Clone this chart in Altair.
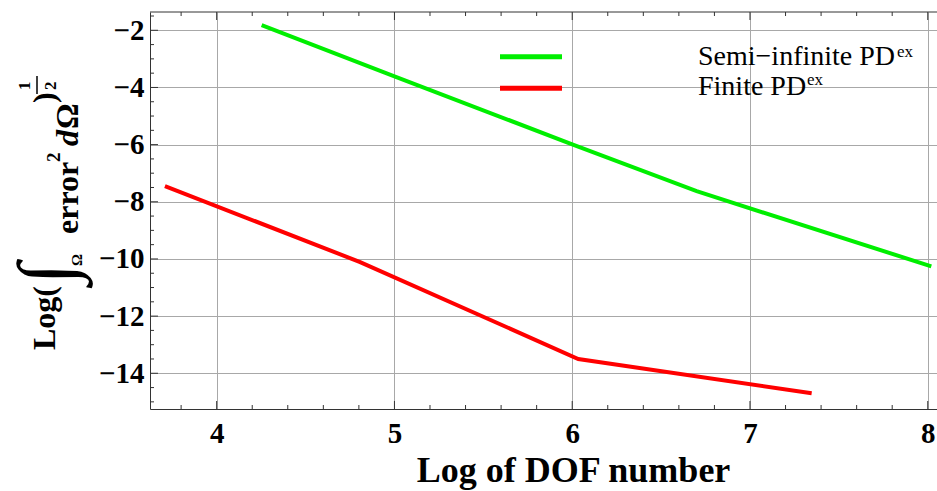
import altair as alt
import pandas as pd

# Convergence data: log of the L2 error norm vs. log of DOF count
semi_x = [4.253, 5.0, 6.0, 6.70, 8.02]
semi_y = [-1.82, -3.61, -5.99, -7.63, -10.26]
fin_x = [3.709, 4.807, 6.034, 7.347]
fin_y = [-7.45, -10.11, -13.50, -14.70]
series_names = ["Semi-infinite", "Finite"]

# Tick positions (major labelled, minor unlabelled)
x_major = [4, 5, 6, 7, 8]
x_minor = [3.8, 4.2, 4.4, 4.6, 4.8, 5.2, 5.4, 5.6, 5.8, 6.2, 6.4, 6.6, 6.8,
           7.2, 7.4, 7.6, 7.8]
y_major = [-14, -12, -10, -8, -6, -4, -2]
y_minor = [-15, -14.5, -13.5, -13, -12.5, -11.5, -11, -10.5, -9.5, -9, -8.5,
           -7.5, -7, -6.5, -5.5, -5, -4.5, -3.5, -3, -2.5, -1.5]

W, H = 787, 397
PAD_L, PAD_T = 150, 12
SERIF = "Liberation Serif"

lines = pd.DataFrame(
    {"x": semi_x, "y": semi_y, "series": series_names[0]}
)
lines = pd.concat(
    [lines, pd.DataFrame({"x": fin_x, "y": fin_y, "series": series_names[1]})],
    ignore_index=True,
)
one = pd.DataFrame({"k": [0]})

xs = alt.Scale(domain=[3.625, 8.052], nice=False, zero=False)
ys = alt.Scale(domain=[-15.25, -1.36], nice=False, zero=False)

# One axis definition per direction, shared by every layer so they merge
ax_x = alt.Axis(values=x_major, grid=True, ticks=False, tickSize=0,
                domain=True, title="Log of DOF number", labelPadding=10,
                labelFont=SERIF, labelFontWeight="bold", labelFontSize=29,
                titleFont=SERIF, titleFontWeight="bold", titleFontSize=36,
                titleX=423, titleY=72, titleAlign="center",
                titleBaseline="alphabetic")
ax_y = alt.Axis(values=y_major, grid=True, ticks=False, tickSize=0,
                domain=True, title="", labelPadding=6,
                labelFont=SERIF, labelFontWeight="bold", labelFontSize=29)

curves = alt.Chart(lines).mark_line(strokeWidth=4, clip=True).encode(
    x=alt.X("x:Q", scale=xs, axis=ax_x),
    y=alt.Y("y:Q", scale=ys, axis=ax_y),
    color=alt.Color("series:N", scale=alt.Scale(domain=series_names,
                                                range=["#00ee00", "#ff0000"]),
                    legend=None),
    detail="series:N",
)


def xticks(vals, length, top):
    df = pd.DataFrame({"x": vals})
    y0 = 0 if top else H
    y1 = length if top else H - length
    return alt.Chart(df).mark_rule(color="#333333", strokeWidth=1).encode(
        x=alt.X("x:Q", scale=xs, axis=ax_x),
        y=alt.value(y0), y2=alt.value(y1))


def yticks(vals, length):
    df = pd.DataFrame({"y": vals})
    return alt.Chart(df).mark_rule(color="#333333", strokeWidth=1).encode(
        y=alt.Y("y:Q", scale=ys, axis=ax_y),
        x=alt.value(0), x2=alt.value(length))


top_frame = alt.Chart(one).mark_rule(color="#333333", strokeWidth=1).encode(
    x=alt.value(0), x2=alt.value(W), y=alt.value(0))


def label(text, ax, ay, size, weight="bold", style="normal", angle=0,
          align="left", baseline="alphabetic"):
    return alt.Chart(one).mark_text(
        font=SERIF, fontSize=size, fontWeight=weight, fontStyle=style,
        angle=angle, align=align, baseline=baseline, color="black",
    ).encode(x=alt.value(ax - PAD_L), y=alt.value(ay - PAD_T),
             text=alt.value(text))


# Rotated y-axis title: Log( \int_Omega error^2 dOmega )^(1/2)
ytitle = [
    label("Log(", 55, 350, 32, angle=270),
    label("\u222b", 72, 284, 78, weight="normal", style="italic", angle=270),
    label("\u03a9", 82, 266, 15, angle=270),
    label("error", 78, 234, 32, angle=270),
    label("2", 60, 162, 19, angle=270),
    label("d", 78, 146, 32, style="italic", angle=270),
    label("\u03a9", 78, 129, 32, angle=270),
    label(")", 55, 103, 32, angle=270),
    label("1", 30, 90, 17, angle=270),
    label("2", 56, 90, 17, angle=270),
]
frac_bar = alt.Chart(one).mark_rule(color="black", strokeWidth=1.5).encode(
    x=alt.value(37 - PAD_L), y=alt.value(94 - PAD_T), y2=alt.value(76 - PAD_T))

# Legend
leg_green = alt.Chart(one).mark_rule(color="#00ee00", strokeWidth=5).encode(
    x=alt.value(500 - PAD_L), x2=alt.value(562 - PAD_L), y=alt.value(56.7 - PAD_T))
leg_red = alt.Chart(one).mark_rule(color="#ff0000", strokeWidth=5).encode(
    x=alt.value(500 - PAD_L), x2=alt.value(562 - PAD_L), y=alt.value(88.3 - PAD_T))
legend = [
    leg_green, leg_red,
    label("Semi\u2212infinite PD", 698, 65, 28, weight="normal"),
    label("ex", 897, 57, 17, weight="normal"),
    label("Finite PD", 698, 95, 28, weight="normal"),
    label("ex", 807, 85, 17, weight="normal"),
]

chart = alt.layer(
    curves,
    xticks(x_major, 8, False), xticks(x_minor, 4, False),
    xticks(x_major, 8, True), xticks(x_minor, 4, True),
    yticks(y_major, 8), yticks(y_minor, 4),
    top_frame, frac_bar,
    *ytitle, *legend,
).properties(
    width=W, height=H,
    autosize=alt.AutoSizeParams(type="none"),
    padding={"left": PAD_L, "top": PAD_T, "right": 0, "bottom": 491 - PAD_T - H},
    background="white",
).configure_view(
    strokeWidth=0,
).configure_axis(
    labelColor="black", titleColor="black", domainColor="#333333",
    domainWidth=1, gridColor="#a8a8a8", gridWidth=1,
)

chart.save("out.html", embed_options={"renderer": "svg", "actions": False})
